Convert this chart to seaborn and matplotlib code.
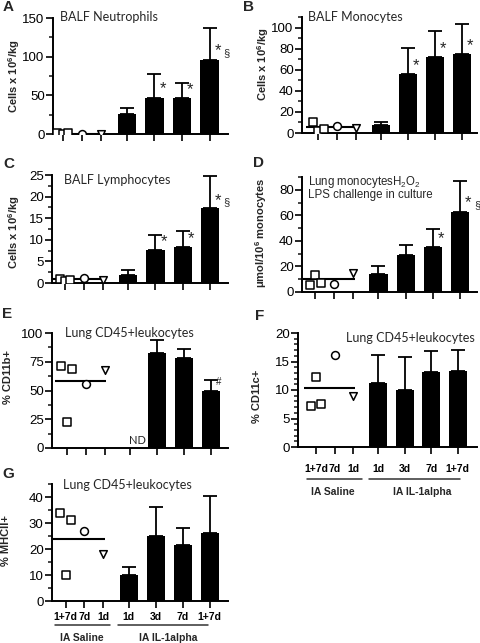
import numpy as np
import pandas as pd
import matplotlib
matplotlib.use("Agg")
import matplotlib.pyplot as plt
import matplotlib.transforms as mtransforms
from matplotlib.ticker import MultipleLocator
import seaborn as sns

# ---------------- data ----------------
saline_labels = ["1+7d", "7d", "1d"]
il_labels = ["1d", "3d", "7d", "1+7d"]
group_names = ["IA Saline", "IA IL-1alpha"]

# A: BALF neutrophils
A_squares = [0.8, 0.5, 0.8]
A_circle = [0.5]
A_triangle = [0.5]
A_mean = [0.6]
A_bars = [26, 47, 46, 96]
A_err = [8, 31, 20, 41]
A_marks = ["", "*", "*", "*§"]

# B: BALF monocytes
B_squares = [10, 2, 4]
B_circle = [7]
B_triangle = [5]
B_mean = [5.5]
B_bars = [8, 56, 72, 75]
B_err = [2, 25, 25, 28]
B_marks = ["", "*", "*", "*"]

# C: BALF lymphocytes
C_squares = [1.0, 0.4, 0.6]
C_circle = [1.2]
C_triangle = [0.6]
C_mean = [1.0]
C_bars = [1.8, 7.7, 8.3, 17.3]
C_err = [1.1, 3.5, 3.7, 7.4]
C_marks = ["", "*", "*", "*§"]

# D: lung monocyte H2O2
D_squares = [5.4, 13, 7]
D_circle = [6.5]
D_triangle = [14.5]
D_mean = [10.5]
D_bars = [14, 29, 35, 63]
D_err = [6, 8, 14, 24]
D_marks = ["", "", "*", "*§"]

# E: % CD11b+
E_squares = [71, 23, 69]
E_circle = [56]
E_triangle = [68]
E_mean = [58]
E_bars = [np.nan, 83, 78, 50]
E_err = [np.nan, 11, 8, 9]
E_marks = ["", "", "", "#"]

# F: % CD11c+
F_squares = [7.2, 12.3, 7.5]
F_circle = [16.2]
F_triangle = [9]
F_mean = [10.4]
F_bars = [11.3, 10, 13.2, 13.4]
F_err = [4.9, 5.8, 3.7, 3.6]
F_marks = ["", "", "", ""]

# G: % MHCII+
G_squares = [34, 10, 31]
G_circle = [27]
G_triangle = [18]
G_mean = [24]
G_bars = [10, 25, 21.5, 26]
G_err = [3, 11, 6.5, 14.5]
G_marks = ["", "", "", ""]

panel_letters = ["A", "B", "C", "D", "E", "F", "G"]
titles = ["BALF Neutrophils", "BALF Monocytes", "BALF Lymphocytes",
          "", "Lung CD45+leukocytes", "Lung CD45+leukocytes", "Lung CD45+leukocytes"]
D_title_lines = [r"Lung monocytesH$_2$O$_2$", "LPS challenge in culture"]
ylabels = [r"Cells x 10$^{\mathbf{6}}$/kg", r"Cells x 10$^{\mathbf{6}}$/kg",
           r"Cells x 10$^{\mathbf{6}}$/kg", r"μmol/10$^{\mathbf{6}}$ monocytes",
           "% CD11b+", "% CD11c+", "% MHCII+"]
nd_text = "ND"

# ---------------- style ----------------
sns.set_theme(style="ticks")
plt.rcParams["font.family"] = ["Liberation Sans", "DejaVu Sans"]
plt.rcParams["mathtext.fontset"] = "custom"
plt.rcParams["mathtext.rm"] = "Liberation Sans"
plt.rcParams["mathtext.bf"] = "Liberation Sans:bold"
plt.rcParams["mathtext.it"] = "Liberation Sans:italic"
TITLE_FONT = ["Lato", "DejaVu Sans"]

W, H = 480, 643
fig = plt.figure(figsize=(W / 100, H / 100), dpi=100)
fig.patch.set_facecolor("white")

saline_pos = np.array([0.0, 0.7, 1.4])
il_pos = np.array([2.33, 3.33, 4.33, 5.33])
sq_off = np.array([-0.2, 0.0, 0.2])

panels = [
    dict(sq=A_squares, ci=A_circle, tr=A_triangle, mean=A_mean, bars=A_bars, err=A_err, marks=A_marks),
    dict(sq=B_squares, ci=B_circle, tr=B_triangle, mean=B_mean, bars=B_bars, err=B_err, marks=B_marks),
    dict(sq=C_squares, ci=C_circle, tr=C_triangle, mean=C_mean, bars=C_bars, err=C_err, marks=C_marks),
    dict(sq=D_squares, ci=D_circle, tr=D_triangle, mean=D_mean, bars=D_bars, err=D_err, marks=D_marks),
    dict(sq=E_squares, ci=E_circle, tr=E_triangle, mean=E_mean, bars=E_bars, err=E_err, marks=E_marks),
    dict(sq=F_squares, ci=F_circle, tr=F_triangle, mean=F_mean, bars=F_bars, err=F_err, marks=F_marks),
    dict(sq=G_squares, ci=G_circle, tr=G_triangle, mean=G_mean, bars=G_bars, err=G_err, marks=G_marks),
]

# layout in pixels: left, right, top(ymax), bottom(0), xlim left/right, ymax, major, minor
layout = [
    dict(l=53, r=228, t=18, b=134, xl=-0.35, xr=6.0, ymax=150, maj=50, mnr=25),
    dict(l=302, r=477, t=17, b=133, xl=-0.6, xr=5.9, ymax=110, maj=20, mnr=10, ytop=100),
    dict(l=52, r=228, t=175, b=283, xl=-0.48, xr=6.0, ymax=25, maj=5, mnr=2.5),
    dict(l=302, r=477, t=177, b=292, xl=-0.48, xr=5.95, ymax=90, maj=20, mnr=10, ytop=80),
    dict(l=52, r=228, t=333, b=448, xl=-0.55, xr=5.96, ymax=100, maj=25, mnr=12.5),
    dict(l=298, r=477, t=333, b=447, xl=-0.68, xr=6.05, ymax=20, maj=5, mnr=1),
    dict(l=52, r=228, t=484, b=601, xl=-0.5, xr=6.0, ymax=45, maj=10, mnr=5, ytop=40),
]
letter_pos = [(3, 7), (243, 7), (3, 164), (253, 163), (2, 314), (255, 316), (2, 474)]
title_pos = [(60, 17), (308, 17), (64, 180), (308, 182), (65, 333), (346, 338), (63, 485)]
ylabel_pos = [(14, 76), (263, 64), (14, 232), (261, 233), (8, 377), (257, 396), (6, 540)]


def fx(px):
    return px / W


def fy(py):
    return 1 - py / H


axes = []
for i, (p, L) in enumerate(zip(panels, layout)):
    ax = fig.add_axes([fx(L["l"]), fy(L["b"]), (L["r"] - L["l"]) / W, (L["b"] - L["t"]) / H])
    axes.append(ax)

    # bars
    df = pd.DataFrame({"pos": il_pos, "val": p["bars"]}).dropna()
    sns.barplot(data=df, x="pos", y="val", native_scale=True, orient="x", width=0.67,
                color="black", saturation=1, errorbar=None, ax=ax, linewidth=0, zorder=2)
    bars = np.array(p["bars"], dtype=float)
    err = np.array(p["err"], dtype=float)
    ok = ~np.isnan(bars)
    ax.errorbar(il_pos[ok], bars[ok], yerr=[np.zeros(ok.sum()), err[ok]], fmt="none",
                ecolor="black", elinewidth=1.3, capsize=5, capthick=1.3, zorder=3)

    # saline points
    mk = dict(color="black", facecolor="white", edgecolor="black", linewidth=1.1,
              ax=ax, zorder=5, legend=False)
    sns.scatterplot(x=saline_pos[0] + sq_off, y=p["sq"], marker="s", s=26, **mk)
    sns.scatterplot(x=[saline_pos[1]], y=p["ci"], marker="o", s=32, **mk)
    sns.scatterplot(x=[saline_pos[2]], y=p["tr"], marker="v", s=30, **mk)
    ax.hlines(p["mean"], -0.45, 1.45, color="black", lw=1.5, zorder=4)

    # annotations
    ymax = L["ymax"]
    for xp, v, m in zip(il_pos, bars, p["marks"]):
        if not m:
            continue
        yv = v + 0.075 * ymax
        if m.startswith("*"):
            ax.text(xp + 0.3, yv, "*", fontsize=12, ha="center", va="center", zorder=6)
            if "§" in m:
                ax.text(xp + 0.62, yv - 0.02 * ymax, "§", fontsize=8, ha="center",
                        va="center", zorder=6)
        else:
            ax.text(xp + 0.3, yv, m, fontsize=7, ha="center", va="center", zorder=6)

    ax.set_xlim(L["xl"], L["xr"])
    ax.set_ylim(0, ymax)
    ytop = L.get("ytop", ymax)
    ax.set_yticks(np.arange(0, ytop + 1e-9, L["maj"]))
    ax.yaxis.set_minor_locator(MultipleLocator(L["mnr"]))
    ax.set_yticklabels([f"{t:g}" for t in np.arange(0, ytop + 1e-9, L["maj"])], fontsize=9.5)
    ax.set_xticks(np.concatenate([saline_pos, il_pos]))
    ax.set_xlabel("")
    ax.set_ylabel("")
    ax.tick_params(axis="y", which="major", length=5, width=1.2, pad=1, colors="black")
    ax.tick_params(axis="y", which="minor", length=3, width=1.2, left=True)
    ax.tick_params(axis="x", length=5, width=1.2, colors="black")
    for s in ["left", "bottom"]:
        ax.spines[s].set_linewidth(1.4)
        ax.spines[s].set_color("black")
    sns.despine(ax=ax)
    ax.spines["left"].set_bounds(0, ymax)
    ax.set_facecolor("white")
    ax.grid(False)

    if i in (5, 6):
        ax.set_xticklabels(saline_labels + il_labels, fontsize=7.5, fontweight="bold")
        ax.tick_params(axis="x", pad=7 if i == 5 else 3)
    else:
        ax.set_xticklabels([])

    # panel letter
    lx, ly = letter_pos[i]
    fig.text(fx(lx), fy(ly), panel_letters[i], fontsize=11, fontweight="bold",
             ha="left", va="center")
    # title
    tx, ty = title_pos[i]
    if i == 3:
        fig.text(fx(tx), fy(ty), D_title_lines[0], fontsize=8.3, ha="left", va="center")
        fig.text(fx(tx), fy(ty + 13), D_title_lines[1], fontsize=8.3, ha="left", va="center")
    else:
        fig.text(fx(tx), fy(ty), titles[i], fontsize=9, family=TITLE_FONT,
                 ha="left", va="center")
    # ylabel
    yx, yy = ylabel_pos[i]
    fig.text(fx(yx), fy(yy), ylabels[i], fontsize=8, fontweight="bold", rotation=90,
             ha="center", va="center")

# ND label in E
fig.text(fx(137), fy(441), nd_text, fontsize=8, family=TITLE_FONT, ha="center", va="center")

# group lines + names under F and G
group_cfg = [(axes[5], 479, 492, (-0.34, 1.73), (1.99, 5.41), (0.64, 4.0)),
             (axes[6], 625, 638, (-0.4, 1.63), (1.93, 5.26), (0.59, 3.78))]
for ax, line_y, text_y, sal, il, tpos in group_cfg:
    tr = mtransforms.blended_transform_factory(ax.transData, fig.transFigure)
    for (x0, x1) in (sal, il):
        ax.plot([x0, x1], [fy(line_y), fy(line_y)], transform=tr, color="#333333",
                lw=1.1, clip_on=False)
    for name, xp in zip(group_names, tpos):
        ax.text(xp, fy(text_y), name, transform=tr, fontsize=7.5, fontweight="bold",
                ha="center", va="center")

fig.savefig("out.png", dpi=100, facecolor="white")
